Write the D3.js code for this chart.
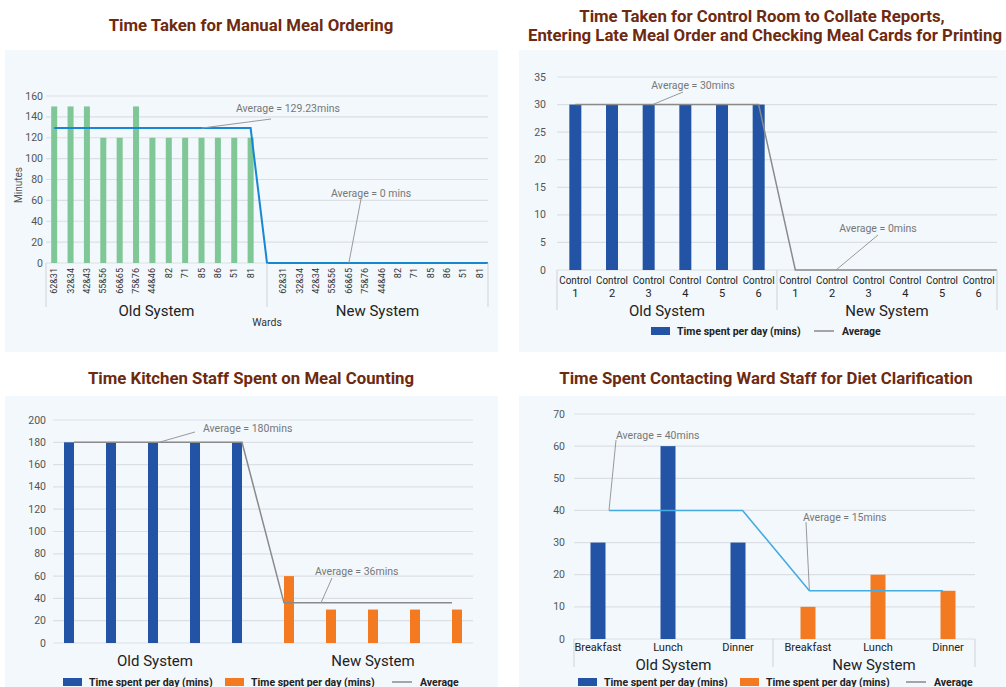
<!DOCTYPE html>
<html><head><meta charset="utf-8">
<script src="https://cdn.jsdelivr.net/npm/d3@7/dist/d3.min.js"></script>
<style>body{margin:0;background:#fff;font-family:Roboto,"Noto Sans",sans-serif}</style>
</head><body>
<svg id="c" width="1006" height="687"></svg>
<script>
// ---------- DATA ----------
const groups = ["Old System", "New System"];
const wardsOld = ["62&31","32&34","42&43","55&56","66&65","75&76","44&46","82","71","85","86","51","81"];
const wardsNew = ["62&31","32&34","42&34","55&56","66&65","75&76","44&46","82","71","85","86","51","81"];
const manualOld = [150,150,150,120,120,150,120,120,120,120,120,120,120];
const manualNew = [0,0,0,0,0,0,0,0,0,0,0,0,0];
const manualAvg = [129.23, 0];
const manualTicks = [0,20,40,60,80,100,120,140,160];

const controls = ["Control 1","Control 2","Control 3","Control 4","Control 5","Control 6"];
const controlOld = [30,30,30,30,30,30];
const controlNew = [0,0,0,0,0,0];
const controlAvg = [30, 0];
const controlTicks = [0,5,10,15,20,25,30,35];

const kitchenCats = ["K1","K2","K3","K4","K5","K6","K7","K8","K9","K10"];
const kitchenOld = [180,180,180,180,180,null,null,null,null,null];
const kitchenNew = [null,null,null,null,null,60,30,30,30,30];
const kitchenAvg = [180, 36];
const kitchenTicks = [0,20,40,60,80,100,120,140,160,180,200];

const meals = ["Breakfast","Lunch","Dinner"];
const dietOld = [30,60,30];
const dietNew = [10,20,15];
const dietAvg = [40, 15];
const dietTicks = [0,10,20,30,40,50,60,70];

const legendLabels = ["Time spent per day (mins)", "Time spent per day (mins)", "Average"];

// ---------- STYLE ----------
const C = {
  panel:"#f2f8fc", grid:"#dcdfe3", title:"#6e2a10", tick:"#555", dark:"#222",
  green:"#7fc796", blue:"#2353a5", orange:"#f47a22", gray:"#8a8a8a",
  lineBlue:"#1787d2", lineLight:"#45abe0", ann:"#777"
};
const TITLE = 16.8;
const svg = d3.select("#c");

function txt(g, x, y, s, o={}) {
  return g.append("text").attr("x", x).attr("y", y).text(s)
    .attr("font-size", o.size||10).attr("fill", o.fill||C.tick)
    .attr("font-weight", o.weight||"normal")
    .attr("text-anchor", o.anchor||"start")
    .attr("dominant-baseline", "central");
}
function panelBg(x,y,w,h){ svg.append("rect").attr("x",x).attr("y",y).attr("width",w).attr("height",h).attr("fill",C.panel); }
function grid(g, y, ticks, x0, x1, labelX, size) {
  ticks.forEach(t => {
    g.append("line").attr("x1",x0).attr("x2",x1).attr("y1",y(t)).attr("y2",y(t))
      .attr("stroke",C.grid).attr("stroke-width",1.2);
    txt(g, labelX, y(t), t, {anchor:"end", size:size||10.5});
  });
}
function ann(g, p0, p1, tx, ty, s, anchor) {
  g.append("line").attr("x1",p0[0]).attr("y1",p0[1]).attr("x2",p1[0]).attr("y2",p1[1])
    .attr("stroke","#999").attr("stroke-width",1);
  txt(g, tx, ty, s, {fill:C.ann, size:10.5, anchor:anchor||"start"});
}
function vsep(g, x, y0, y1){ g.append("line").attr("x1",x).attr("x2",x).attr("y1",y0).attr("y2",y1).attr("stroke","#d0d3d6").attr("stroke-width",1); }
function legend(g, y, items) {
  items.forEach(it => {
    if (it.type === "rect") g.append("rect").attr("x",it.x).attr("y",y-4).attr("width",19).attr("height",8).attr("fill",it.color);
    else g.append("line").attr("x1",it.x).attr("x2",it.x+20).attr("y1",y).attr("y2",y).attr("stroke",it.color).attr("stroke-width",1.5);
    txt(g, it.x+(it.type==="rect"?26:28), y, it.label, {size:10.5, weight:"bold", fill:C.dark});
  });
}

// ---------- PANEL 1 ----------
(function(){
  panelBg(5,50,493,302);
  const g = svg.append("g");
  txt(g, 251, 25, "Time Taken for Manual Meal Ordering", {size:TITLE, weight:"bold", fill:C.title, anchor:"middle"});
  const keys = wardsOld.map((d,i)=>"o"+i).concat(["gap"], wardsNew.map((d,i)=>"n"+i));
  const x = d3.scaleBand().domain(keys).range([46,488]);
  const y = d3.scaleLinear().domain([0,160]).range([263,96]);
  grid(g, y, manualTicks, 46, 488, 43, 10.5);
  const cx = k => x(k) + x.bandwidth()/2;
  const bw = 6;
  const bars = wardsOld.map((w,i)=>({k:"o"+i,v:manualOld[i]})).concat(wardsNew.map((w,i)=>({k:"n"+i,v:manualNew[i]})));
  g.selectAll(".b1").data(bars).join("rect").attr("x",d=>cx(d.k)-bw/2).attr("width",bw)
    .attr("y",d=>y(d.v)).attr("height",d=>y(0)-y(d.v)).attr("fill",C.green);
  const linePts = wardsOld.map((w,i)=>[cx("o"+i), manualAvg[0]])
    .concat([[cx("gap"), manualAvg[1]]])
    .concat(wardsNew.map((w,i)=>[cx("n"+i), manualAvg[1]]));
  linePts.push([488, manualAvg[1]]);
  g.append("path").attr("d", d3.line().x(d=>d[0]).y(d=>y(d[1]))(linePts))
    .attr("fill","none").attr("stroke",C.lineBlue).attr("stroke-width",2);
  wardsOld.forEach((w,i)=>{ g.append("text").attr("transform",`translate(${cx("o"+i)+3},268) rotate(-90)`)
    .attr("text-anchor","end").attr("font-size",9).attr("fill","#333").text(w); });
  wardsNew.forEach((w,i)=>{ g.append("text").attr("transform",`translate(${cx("n"+i)+3},268) rotate(-90)`)
    .attr("text-anchor","end").attr("font-size",9).attr("fill","#333").text(w); });
  vsep(g,46,263,307); vsep(g,cx("gap"),263,307); vsep(g,488,263,307);
  txt(g, (46+cx("gap"))/2, 311, groups[0], {size:15, fill:C.dark, anchor:"middle"});
  txt(g, (cx("gap")+488)/2, 311, groups[1], {size:15, fill:C.dark, anchor:"middle"});
  txt(g, cx("gap"), 322, "Wards", {size:10.5, fill:"#333", anchor:"middle"});
  g.append("text").attr("transform","translate(18,185) rotate(-90)").attr("text-anchor","middle")
    .attr("dominant-baseline","central").attr("font-size",10).attr("fill","#555").text("Minutes");
  ann(g, [cx("o9"), y(manualAvg[0])], [271,119], 236, 108, "Average = 129.23mins");
  ann(g, [cx("n4"), y(0)], [361,199], 331, 193, "Average = 0 mins");
})();

// ---------- PANEL 2 ----------
(function(){
  panelBg(519,50,487,302);
  const g = svg.append("g");
  txt(g, 762, 16, "Time Taken for Control Room to Collate Reports,", {size:TITLE, weight:"bold", fill:C.title, anchor:"middle"});
  txt(g, 765, 35, "Entering Late Meal Order and Checking Meal Cards for Printing", {size:TITLE, weight:"bold", fill:C.title, anchor:"middle"});
  const keys = controls.map((d,i)=>"o"+i).concat(controls.map((d,i)=>"n"+i));
  const x = d3.scaleBand().domain(keys).range([557,997]);
  const y = d3.scaleLinear().domain([0,35]).range([270,77]);
  grid(g, y, controlTicks, 557, 997, 546, 10.5);
  const cx = k => x(k) + x.bandwidth()/2;
  const bw = 12;
  const bars = controls.map((c,i)=>({k:"o"+i,v:controlOld[i]})).concat(controls.map((c,i)=>({k:"n"+i,v:controlNew[i]})));
  g.selectAll(".b2").data(bars).join("rect").attr("x",d=>cx(d.k)-bw/2).attr("width",bw)
    .attr("y",d=>y(d.v)).attr("height",d=>y(0)-y(d.v)).attr("fill",C.blue);
  const pts = controls.map((c,i)=>[cx("o"+i), controlAvg[0]]).concat(controls.map((c,i)=>[cx("n"+i), controlAvg[1]]));
  pts.push([997, controlAvg[1]]);
  g.append("path").attr("d", d3.line().x(d=>d[0]).y(d=>y(d[1]))(pts))
    .attr("fill","none").attr("stroke",C.gray).attr("stroke-width",1.5);
  keys.forEach((k,i)=>{
    const parts = controls[i%6].split(" ");
    txt(g, cx(k), 280, parts[0], {size:11, fill:C.dark, anchor:"middle"})
      .attr("textLength", 32).attr("lengthAdjust","spacingAndGlyphs");
    txt(g, cx(k), 293, parts[1], {size:11, fill:C.dark, anchor:"middle"});
  });
  const mid = (cx("o5")+cx("n0"))/2;
  vsep(g,557,270,310); vsep(g,mid,270,310); vsep(g,997,270,310);
  txt(g, (557+mid)/2, 311, groups[0], {size:15, fill:C.dark, anchor:"middle"});
  txt(g, (mid+997)/2, 311, groups[1], {size:15, fill:C.dark, anchor:"middle"});
  legend(g, 331, [{type:"rect",x:651,color:C.blue,label:legendLabels[0]},{type:"line",x:814,color:C.gray,label:legendLabels[2]}]);
  ann(g, [cx("o2")+4, y(controlAvg[0])], [683,92], 693, 85, "Average = 30mins", "middle");
  ann(g, [cx("n1")+4, y(0)], [878,235], 878, 228, "Average = 0mins", "middle");
})();

// ---------- PANEL 3 ----------
(function(){
  panelBg(5,396,493,291);
  const g = svg.append("g");
  txt(g, 251, 378, "Time Kitchen Staff Spent on Meal Counting", {size:TITLE, weight:"bold", fill:C.title, anchor:"middle"});
  const x = d3.scaleBand().domain(kitchenCats).range([53,473]);
  const sub = d3.scaleBand().domain(["old","new"]).range([x.bandwidth()/2-10, x.bandwidth()/2+10]);
  const y = d3.scaleLinear().domain([0,200]).range([643,420]);
  grid(g, y, kitchenTicks, 53, 473, 46, 10.5);
  const data = [];
  kitchenCats.forEach((c,i)=>{
    if (kitchenOld[i]!=null) data.push({c, s:"old", v:kitchenOld[i]});
    if (kitchenNew[i]!=null) data.push({c, s:"new", v:kitchenNew[i]});
  });
  g.selectAll(".b3").data(data).join("rect").attr("x",d=>x(d.c)+sub(d.s)).attr("width",sub.bandwidth())
    .attr("y",d=>y(d.v)).attr("height",d=>y(0)-y(d.v)).attr("fill",d=>d.s==="old"?C.blue:C.orange);
  const cx = c => x(c)+x.bandwidth()/2;
  const pts = kitchenCats.map((c,i)=>[cx(c), i<5?kitchenAvg[0]:kitchenAvg[1]]);
  g.append("path").attr("d", d3.line().x(d=>d[0]).y(d=>y(d[1]))(pts))
    .attr("fill","none").attr("stroke",C.gray).attr("stroke-width",1.5);
  txt(g, 155, 661, groups[0], {size:15, fill:C.dark, anchor:"middle"});
  txt(g, 373, 661, groups[1], {size:15, fill:C.dark, anchor:"middle"});
  legend(g, 682, [{type:"rect",x:63,color:C.blue,label:legendLabels[0]},{type:"rect",x:225,color:C.orange,label:legendLabels[1]},{type:"line",x:392,color:C.gray,label:legendLabels[2]}]);
  ann(g, [cx("K3")+1, y(kitchenAvg[0])], [195,432], 203, 428, "Average = 180mins");
  ann(g, [cx("K6")+37, y(kitchenAvg[1])], [332,578], 315, 571, "Average = 36mins");
})();

// ---------- PANEL 4 ----------
(function(){
  panelBg(519,396,487,291);
  const g = svg.append("g");
  txt(g, 766, 378, "Time Spent Contacting Ward Staff for Diet Clarification", {size:TITLE, weight:"bold", fill:C.title, anchor:"middle"});
  const keys = meals.map((m,i)=>"o"+i).concat(meals.map((m,i)=>"n"+i));
  const x = d3.scaleBand().domain(keys).range([563,983]);
  const xl = d3.scalePoint().domain(keys).range([609,943]);
  const y = d3.scaleLinear().domain([0,70]).range([639,414]);
  grid(g, y, dietTicks, 574, 975, 565, 10.5);
  const cx = k => x(k)+x.bandwidth()/2;
  const bw = 15;
  const data = meals.map((m,i)=>({k:"o"+i,v:dietOld[i],s:"old"})).concat(meals.map((m,i)=>({k:"n"+i,v:dietNew[i],s:"new"})));
  g.selectAll(".b4").data(data).join("rect").attr("x",d=>cx(d.k)-bw/2).attr("width",bw)
    .attr("y",d=>y(d.v)).attr("height",d=>y(0)-y(d.v)).attr("fill",d=>d.s==="old"?C.blue:C.orange);
  const pts = keys.map((k,i)=>[xl(k), i<3?dietAvg[0]:dietAvg[1]]);
  g.append("path").attr("d", d3.line().x(d=>d[0]).y(d=>y(d[1]))(pts))
    .attr("fill","none").attr("stroke",C.lineLight).attr("stroke-width",1.6);
  keys.forEach((k,i)=> txt(g, cx(k), 647, meals[i%3], {size:11, fill:C.dark, anchor:"middle"}));
  const mid = (cx("o2")+cx("n0"))/2;
  vsep(g,574,639,667); vsep(g,mid,639,667); vsep(g,975,639,667);
  txt(g, (574+mid)/2, 665, groups[0], {size:15, fill:C.dark, anchor:"middle"});
  txt(g, (mid+975)/2, 665, groups[1], {size:15, fill:C.dark, anchor:"middle"});
  legend(g, 682, [{type:"rect",x:578,color:C.blue,label:legendLabels[0]},{type:"rect",x:740,color:C.orange,label:legendLabels[1]},{type:"line",x:906,color:C.gray,label:legendLabels[2]}]);
  ann(g, [xl("o0"), y(dietAvg[0])], [616,440], 616, 435, "Average = 40mins");
  ann(g, [xl("n0"), y(dietAvg[1])], [806,522], 803, 517, "Average = 15mins");
})();
</script>
</body></html>
